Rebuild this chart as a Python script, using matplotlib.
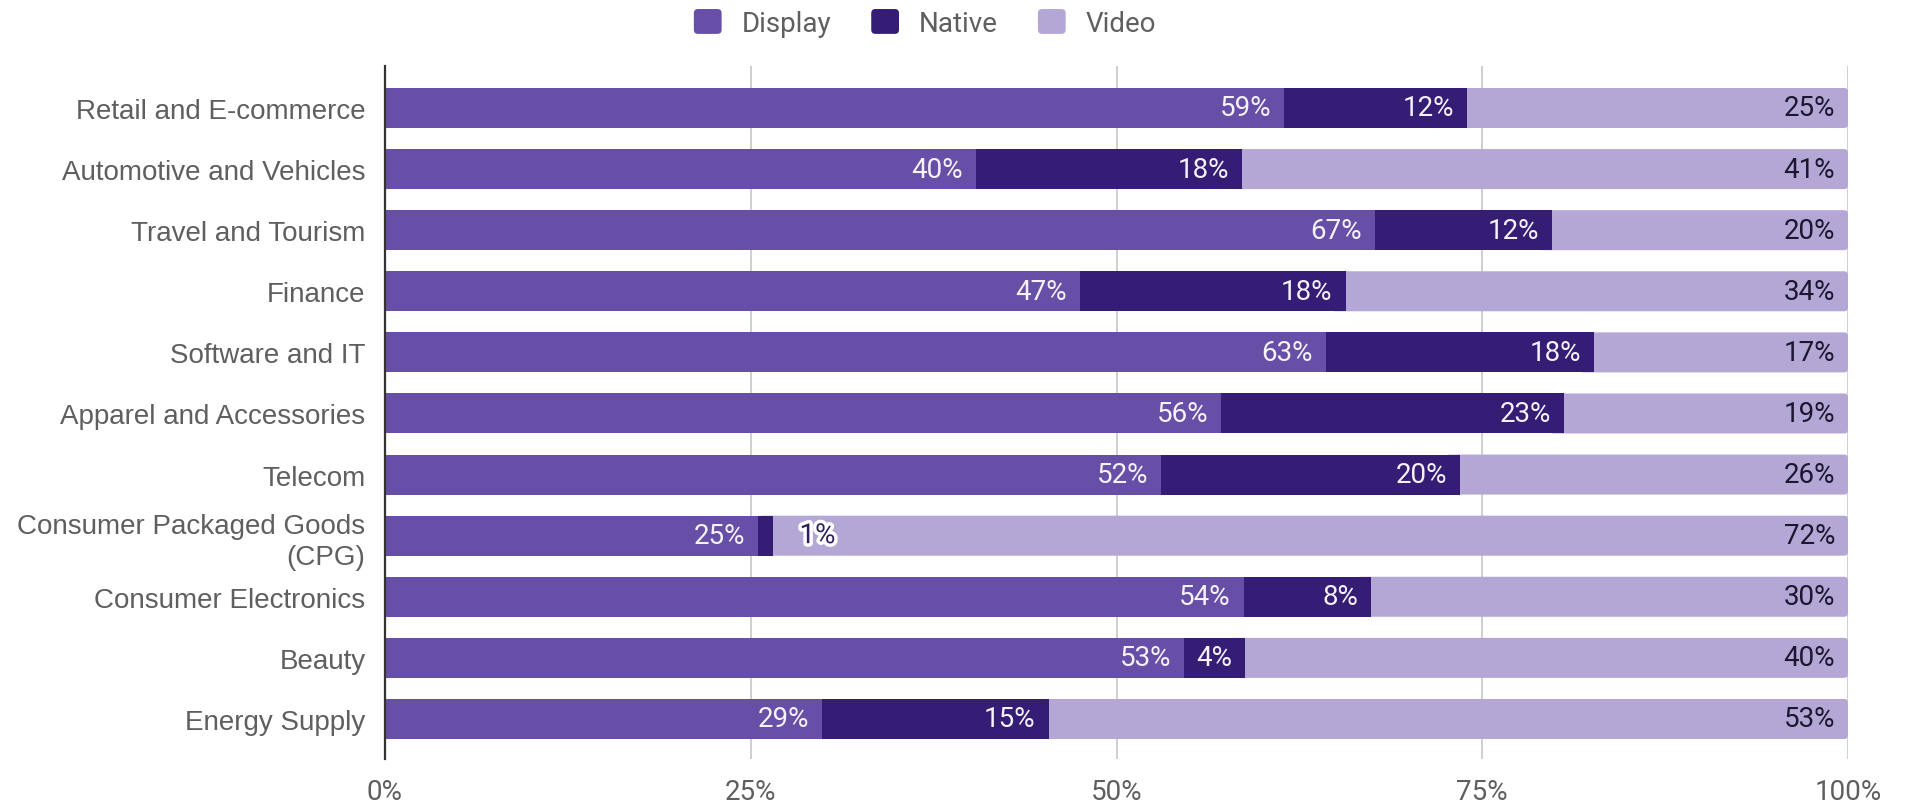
import matplotlib
matplotlib.use("Agg")
import matplotlib.pyplot as plt
from matplotlib.patches import FancyBboxPatch, Patch
from matplotlib.legend_handler import HandlerPatch
from matplotlib.ticker import FixedLocator
import matplotlib.patheffects as pe

categories = [
    "Retail and E-commerce",
    "Automotive and Vehicles",
    "Travel and Tourism",
    "Finance",
    "Software and IT",
    "Apparel and Accessories",
    "Telecom",
    "Consumer Packaged Goods\n(CPG)",
    "Consumer Electronics",
    "Beauty",
    "Energy Supply",
]
display = [59, 40, 67, 47, 63, 56, 52, 25, 54, 53, 29]
native = [12, 18, 12, 18, 18, 23, 20, 1, 8, 4, 15]
video = [25, 41, 20, 34, 17, 19, 26, 72, 30, 40, 53]

series_names = ["Display", "Native", "Video"]
colors = ["#674ea7", "#351c75", "#b4a7d6"]
x_ticks = [0, 0.25, 0.5, 0.75, 1.0]
x_tick_labels = ["0%", "25%", "50%", "75%", "100%"]

W, H, DPI = 1911, 804, 100
fig = plt.figure(figsize=(W / DPI, H / DPI), dpi=DPI)
ax_left, ax_right, ax_top, ax_bottom = 385, 1848, 67, 760
ax = fig.add_axes([ax_left / W, 1 - ax_bottom / H,
                   (ax_right - ax_left) / W, (ax_bottom - ax_top) / H])

n = len(categories)
ax.set_xlim(0, 1)
ax.set_ylim(n - 1 + 0.655, -0.687)

bar_h = 0.655
px_per_x = (ax_right - ax_left) / 1.0
px_per_y = (ax_bottom - ax_top) / (n - 1 + 0.655 + 0.687)
radius_px = 4
rx = radius_px / px_per_x
aspect = (radius_px / px_per_y) / rx

label_font = "Roboto"
pad = 0.0088  # ~13 px inside the segment end

for i in range(n):
    total = display[i] + native[i] + video[i]
    d = display[i] / total
    nv = native[i] / total
    v = video[i] / total
    # video segment with rounded right end, tucked under the other segments
    start = d + nv - 0.01
    patch = FancyBboxPatch((start, i - bar_h / 2), (d + nv + v) - start, bar_h,
                           boxstyle=f"round,pad=0,rounding_size={rx}",
                           mutation_aspect=aspect, facecolor=colors[2],
                           edgecolor="none", zorder=2)
    ax.add_patch(patch)
    ax.barh(i, d, left=0, height=bar_h, color=colors[0], zorder=3, linewidth=0)
    ax.barh(i, nv, left=d, height=bar_h, color=colors[1], zorder=3, linewidth=0)

    ax.text(d - pad, i, f"{display[i]}%", ha="right", va="center",
            color="#f4f2fa", fontsize=20, family=label_font, zorder=5)
    if nv * px_per_x > 50:
        ax.text(d + nv - pad, i, f"{native[i]}%", ha="right", va="center",
                color="#f4f2fa", fontsize=20, family=label_font, zorder=5)
    else:
        ax.text(d + nv + 0.018, i, f"{native[i]}%", ha="left", va="center",
                color="#2e1f5c", fontsize=20, family=label_font, zorder=5,
                path_effects=[pe.withStroke(linewidth=5, foreground="white")])
    ax.text(d + nv + v - pad, i, f"{video[i]}%", ha="right", va="center",
            color="#1c1630", fontsize=20, family=label_font, zorder=5)

ax.set_yticks(range(n))
ax.set_yticklabels(categories, fontsize=20, color="#5f5f5f",
                   family="Liberation Sans", linespacing=1.25)
ax.xaxis.set_major_locator(FixedLocator(x_ticks))
ax.set_xticklabels(x_tick_labels, fontsize=20, color="#5f5f5f", family=label_font)
ax.tick_params(axis="y", length=0, pad=14)
ax.tick_params(axis="x", length=0, pad=14)

ax.grid(axis="x", color="#cccccc", linewidth=1.3, zorder=0)
ax.set_axisbelow(True)
for s in ["top", "right", "bottom"]:
    ax.spines[s].set_visible(False)
ax.spines["left"].set_color("#333333")
ax.spines["left"].set_linewidth(1.6)
ax.spines["left"].set_zorder(6)


def rounded_handle(legend, orig_handle, xdescent, ydescent, width, height, fontsize):
    return FancyBboxPatch((-xdescent, -ydescent), width, height,
                          boxstyle="round,pad=0,rounding_size=3")


handles = [Patch(facecolor=c, edgecolor="none", label=s)
           for c, s in zip(colors, series_names)]
fig.legend(handles=handles, loc="center", bbox_to_anchor=(925 / W, 1 - 24 / H),
           ncol=3, frameon=False, prop={"family": label_font, "size": 20},
           labelcolor="#5f5f5f", handlelength=1.0, handleheight=1.0,
           handletextpad=0.72, columnspacing=1.44,
           handler_map={Patch: HandlerPatch(patch_func=rounded_handle)})

fig.savefig("out.png", dpi=DPI, facecolor="white")
